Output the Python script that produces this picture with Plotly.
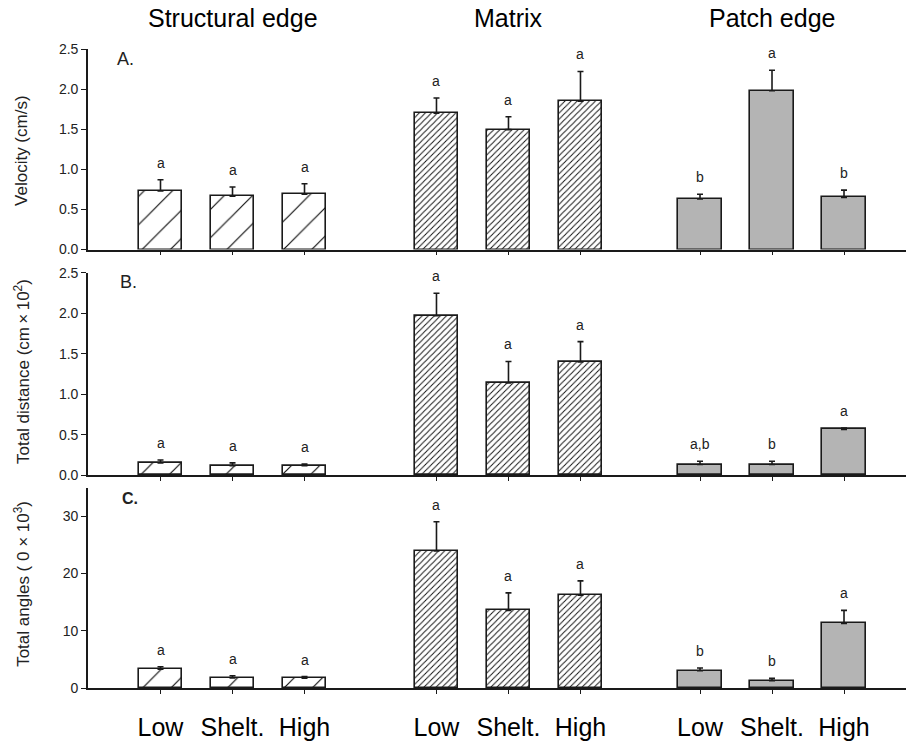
import plotly.graph_objects as go

# ---------------- data ----------------
groups = ["Structural edge", "Matrix", "Patch edge"]
levels = ["Low", "Shelt.", "High"]

vel_mean = [[0.73, 0.665, 0.69], [1.70, 1.495, 1.85], [0.63, 1.98, 0.65]]
vel_err = [[0.14, 0.115, 0.13], [0.19, 0.16, 0.37], [0.06, 0.255, 0.09]]
vel_sig = [["a", "a", "a"], ["a", "a", "a"], ["b", "a", "b"]]

dist_mean = [[0.15, 0.115, 0.115], [1.97, 1.14, 1.40], [0.13, 0.13, 0.565]]
dist_err = [[0.035, 0.035, 0.02], [0.28, 0.265, 0.25], [0.04, 0.04, 0.015]]
dist_sig = [["a", "a", "a"], ["a", "a", "a"], ["a,b", "b", "a"]]

ang_mean = [[3.3, 1.74, 1.7], [23.9, 13.55, 16.2], [3.0, 1.28, 11.28]]
ang_err = [[0.4, 0.4, 0.3], [5.1, 3.05, 2.5], [0.5, 0.4, 2.27]]
ang_sig = [["a", "a", "a"], ["a", "a", "a"], ["b", "b", "a"]]

panel_letters = ["A.", "B.", "<b>C.</b>"]
y_titles = ["Velocity (cm/s)", "Total distance (cm\u2009\u00d7\u200910<sup>2</sup>)",
            "Total angles ( 0 \u00d7 10<sup>3</sup>)"]

# ---------------- layout constants ----------------
FONT = "Liberation Sans, Arial, sans-serif"
group_offset = [0.0, 3.833, 7.493]
x_range = [-1.007, 10.354]
bar_w = 0.6
patterns = [
    dict(shape="/", size=20, solidity=0.06, fgcolor="#111", bgcolor="white",
         fillmode="overlay", fgopacity=1),
    dict(shape="/", size=4.3, solidity=0.22, fgcolor="#111", bgcolor="white",
         fillmode="overlay", fgopacity=1),
    None,
]
fills = ["white", "white", "#b4b4b4"]

rows = [
    dict(mean=vel_mean, err=vel_err, sig=vel_sig, dom=[0.6862, 1.0], rng=[0, 2.5], dtick=0.5, fmt=".1f"),
    dict(mean=dist_mean, err=dist_err, sig=dist_sig, dom=[0.3333, 0.6495], rng=[0, 2.5], dtick=0.5, fmt=".1f"),
    dict(mean=ang_mean, err=ang_err, sig=ang_sig, dom=[0.0, 0.313], rng=[0, 34.9], dtick=10, fmt="d"),
]

fig = go.Figure()
annotations = []
tickvals = [group_offset[g] + i for g in range(3) for i in range(3)]
ticktext = [levels[i] for g in range(3) for i in range(3)]

for r, row in enumerate(rows):
    xa = "x" if r == 0 else f"x{r+1}"
    ya = "y" if r == 0 else f"y{r+1}"
    for g in range(3):
        xs = [group_offset[g] + i for i in range(3)]
        marker = dict(color=fills[g], line=dict(color="#1a1a1a", width=1.6))
        if patterns[g] is not None:
            marker["pattern"] = patterns[g]
        fig.add_trace(go.Bar(
            x=xs, y=row["mean"][g], width=bar_w, marker=marker, xaxis=xa, yaxis=ya,
            showlegend=False,
            error_y=dict(type="data", array=row["err"][g], arrayminus=[0, 0, 0], symmetric=False,
                         color="#1a1a1a", thickness=1.6, width=3),
        ))
        for i in range(3):
            annotations.append(dict(
                x=xs[i], y=row["mean"][g][i] + row["err"][g][i], xref=xa, yref=ya,
                text=row["sig"][g][i], showarrow=False, yanchor="middle", yshift=17,
                font=dict(family=FONT, size=14, color="#222"),
            ))

    axis_common = dict(showline=True, linecolor="#1a1a1a", linewidth=1.6, ticks="outside",
                       tickcolor="#1a1a1a", showgrid=False, zeroline=False)
    xdict = dict(**axis_common, domain=[0, 1], range=x_range, anchor=ya, ticklen=4, tickwidth=1.3,
                 tickmode="array", tickvals=tickvals, showticklabels=(r == 2))
    if r == 2:
        xdict.update(ticktext=ticktext, ticklabelstandoff=12,
                     tickfont=dict(family=FONT, size=25, color="black"))
    fig.layout[("xaxis" if r == 0 else f"xaxis{r+1}")] = xdict
    fig.layout[("yaxis" if r == 0 else f"yaxis{r+1}")] = dict(
        **axis_common, domain=row["dom"], range=row["rng"], anchor=xa, dtick=row["dtick"],
        tick0=0, tickformat=row["fmt"], ticklen=5, tickwidth=1.3,
        tickfont=dict(family=FONT, size=14, color="#222"),
    )

# panel letters
for (lx, ly), txt in zip([(0.033, 0.985), (0.0367, 0.636), (0.039, 0.2966)], panel_letters):
    annotations.append(dict(x=lx, y=ly, xref="paper", yref="paper", text=txt, showarrow=False,
                            xanchor="left", yanchor="middle",
                            font=dict(family=FONT, size=18 if "b>" not in txt else 16, color="#222")))

# y titles
for ty, txt in zip([0.842, 0.496, 0.163], y_titles):
    annotations.append(dict(x=-0.0807, y=ty, xref="paper", yref="paper", text=txt, showarrow=False,
                            textangle=-90, xanchor="center", yanchor="middle",
                            font=dict(family=FONT, size=17, color="#222")))

# group titles
for g, name in enumerate(groups):
    annotations.append(dict(x=group_offset[g] + 1, y=1.049, xref="x", yref="paper", text=name,
                            showarrow=False, xanchor="center", yanchor="middle",
                            font=dict(family=FONT, size=25, color="black")))

fig.update_layout(
    width=906, height=746, margin=dict(l=88, r=0, t=49, b=58),
    paper_bgcolor="white", plot_bgcolor="white", bargap=0, annotations=annotations,
    showlegend=False,
)

fig.write_html("out.html")
